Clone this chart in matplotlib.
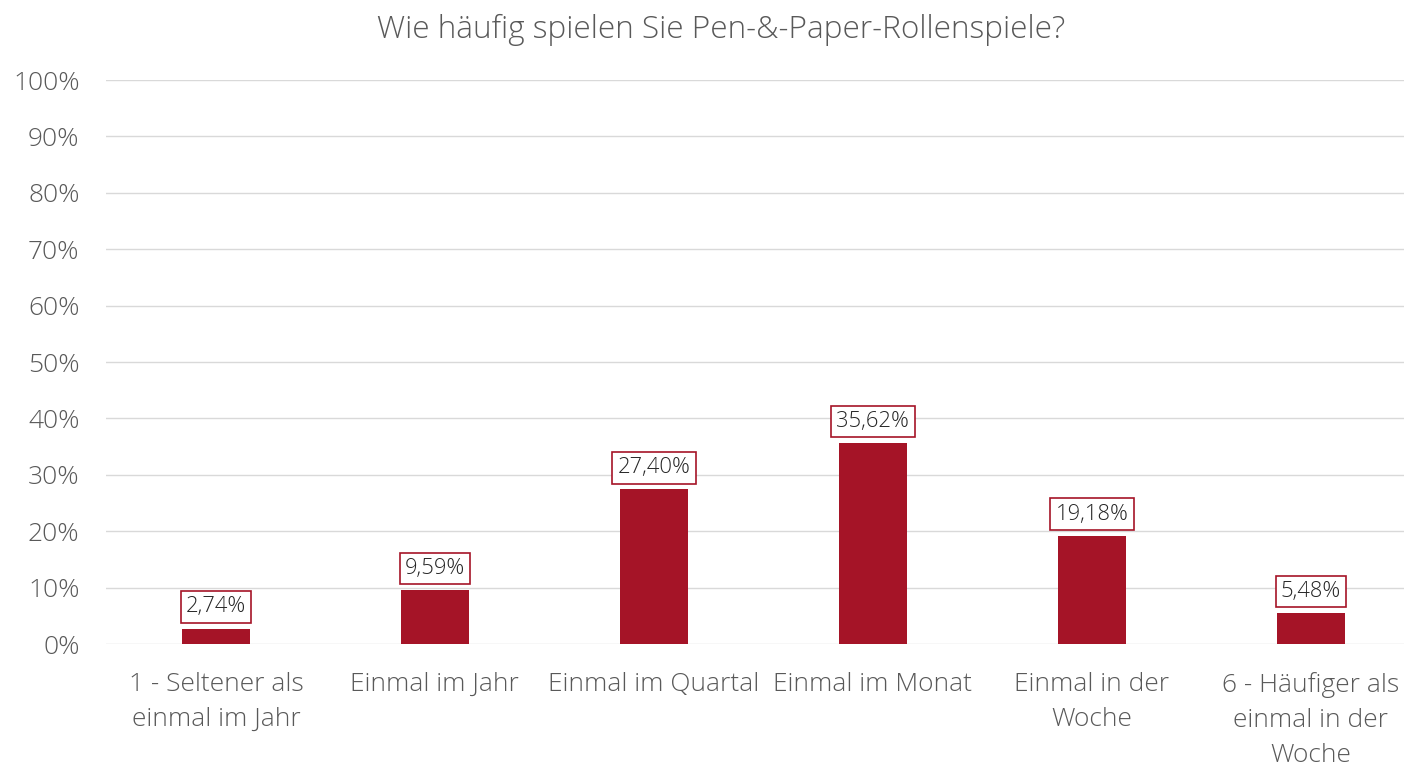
import matplotlib
matplotlib.use("Agg")
import matplotlib.pyplot as plt
from matplotlib.ticker import MultipleLocator, FuncFormatter

categories = ["1 - Seltener als\neinmal im Jahr", "Einmal im Jahr", "Einmal im Quartal",
              "Einmal im Monat", "Einmal in der\nWoche", "6 - Häufiger als\neinmal in der\nWoche"]
values = [2.74, 9.59, 27.40, 35.62, 19.18, 5.48]
title = "Wie häufig spielen Sie Pen-&-Paper-Rollenspiele?"

plt.rcParams['font.family'] = ['Open Sans', 'DejaVu Sans']
gray = "#595959"
red = "#A51427"

fig = plt.figure(figsize=(14.04, 7.69), dpi=100)
ax = fig.add_axes([106/1404, 1 - 644/769, (1404-106)/1404, (644-80)/769])

x = list(range(len(values)))
ax.bar(x, values, width=0.31, color=red, zorder=3)
ax.set_xlim(-0.502, 5.425)
ax.set_ylim(0, 100)
ax.yaxis.set_major_locator(MultipleLocator(10))
ax.yaxis.set_major_formatter(FuncFormatter(lambda v, p: f"{int(round(v))}%"))
ax.grid(axis='y', color="#d9d9d9", linewidth=1, zorder=0)
for s in ax.spines.values():
    s.set_visible(False)
ax.tick_params(axis='both', length=0, labelsize=19, labelcolor=gray)
ax.tick_params(axis='y', pad=19)
ax.tick_params(axis='x', pad=20)
ax.set_xticks(x)
ax.set_xticklabels(categories, linespacing=1.52)
for lab in ax.get_xticklabels() + ax.get_yticklabels():
    lab.set_fontweight('light')

for xi, v in zip(x, values):
    ax.annotate(f"{v:.2f}%".replace('.', ','), (xi, v), xytext=(0, 8), textcoords='offset points',
                ha='center', va='bottom', fontsize=15.8, color="#262626", fontweight='light',
                bbox=dict(boxstyle='square,pad=0.24', fc='white', ec=red, lw=1.2), zorder=4)

fig.text(721/1404, 1 - 30/769, title, ha='center', va='center', fontsize=22.7, color=gray,
         fontweight='light')

fig.savefig("out.png", dpi=100)
